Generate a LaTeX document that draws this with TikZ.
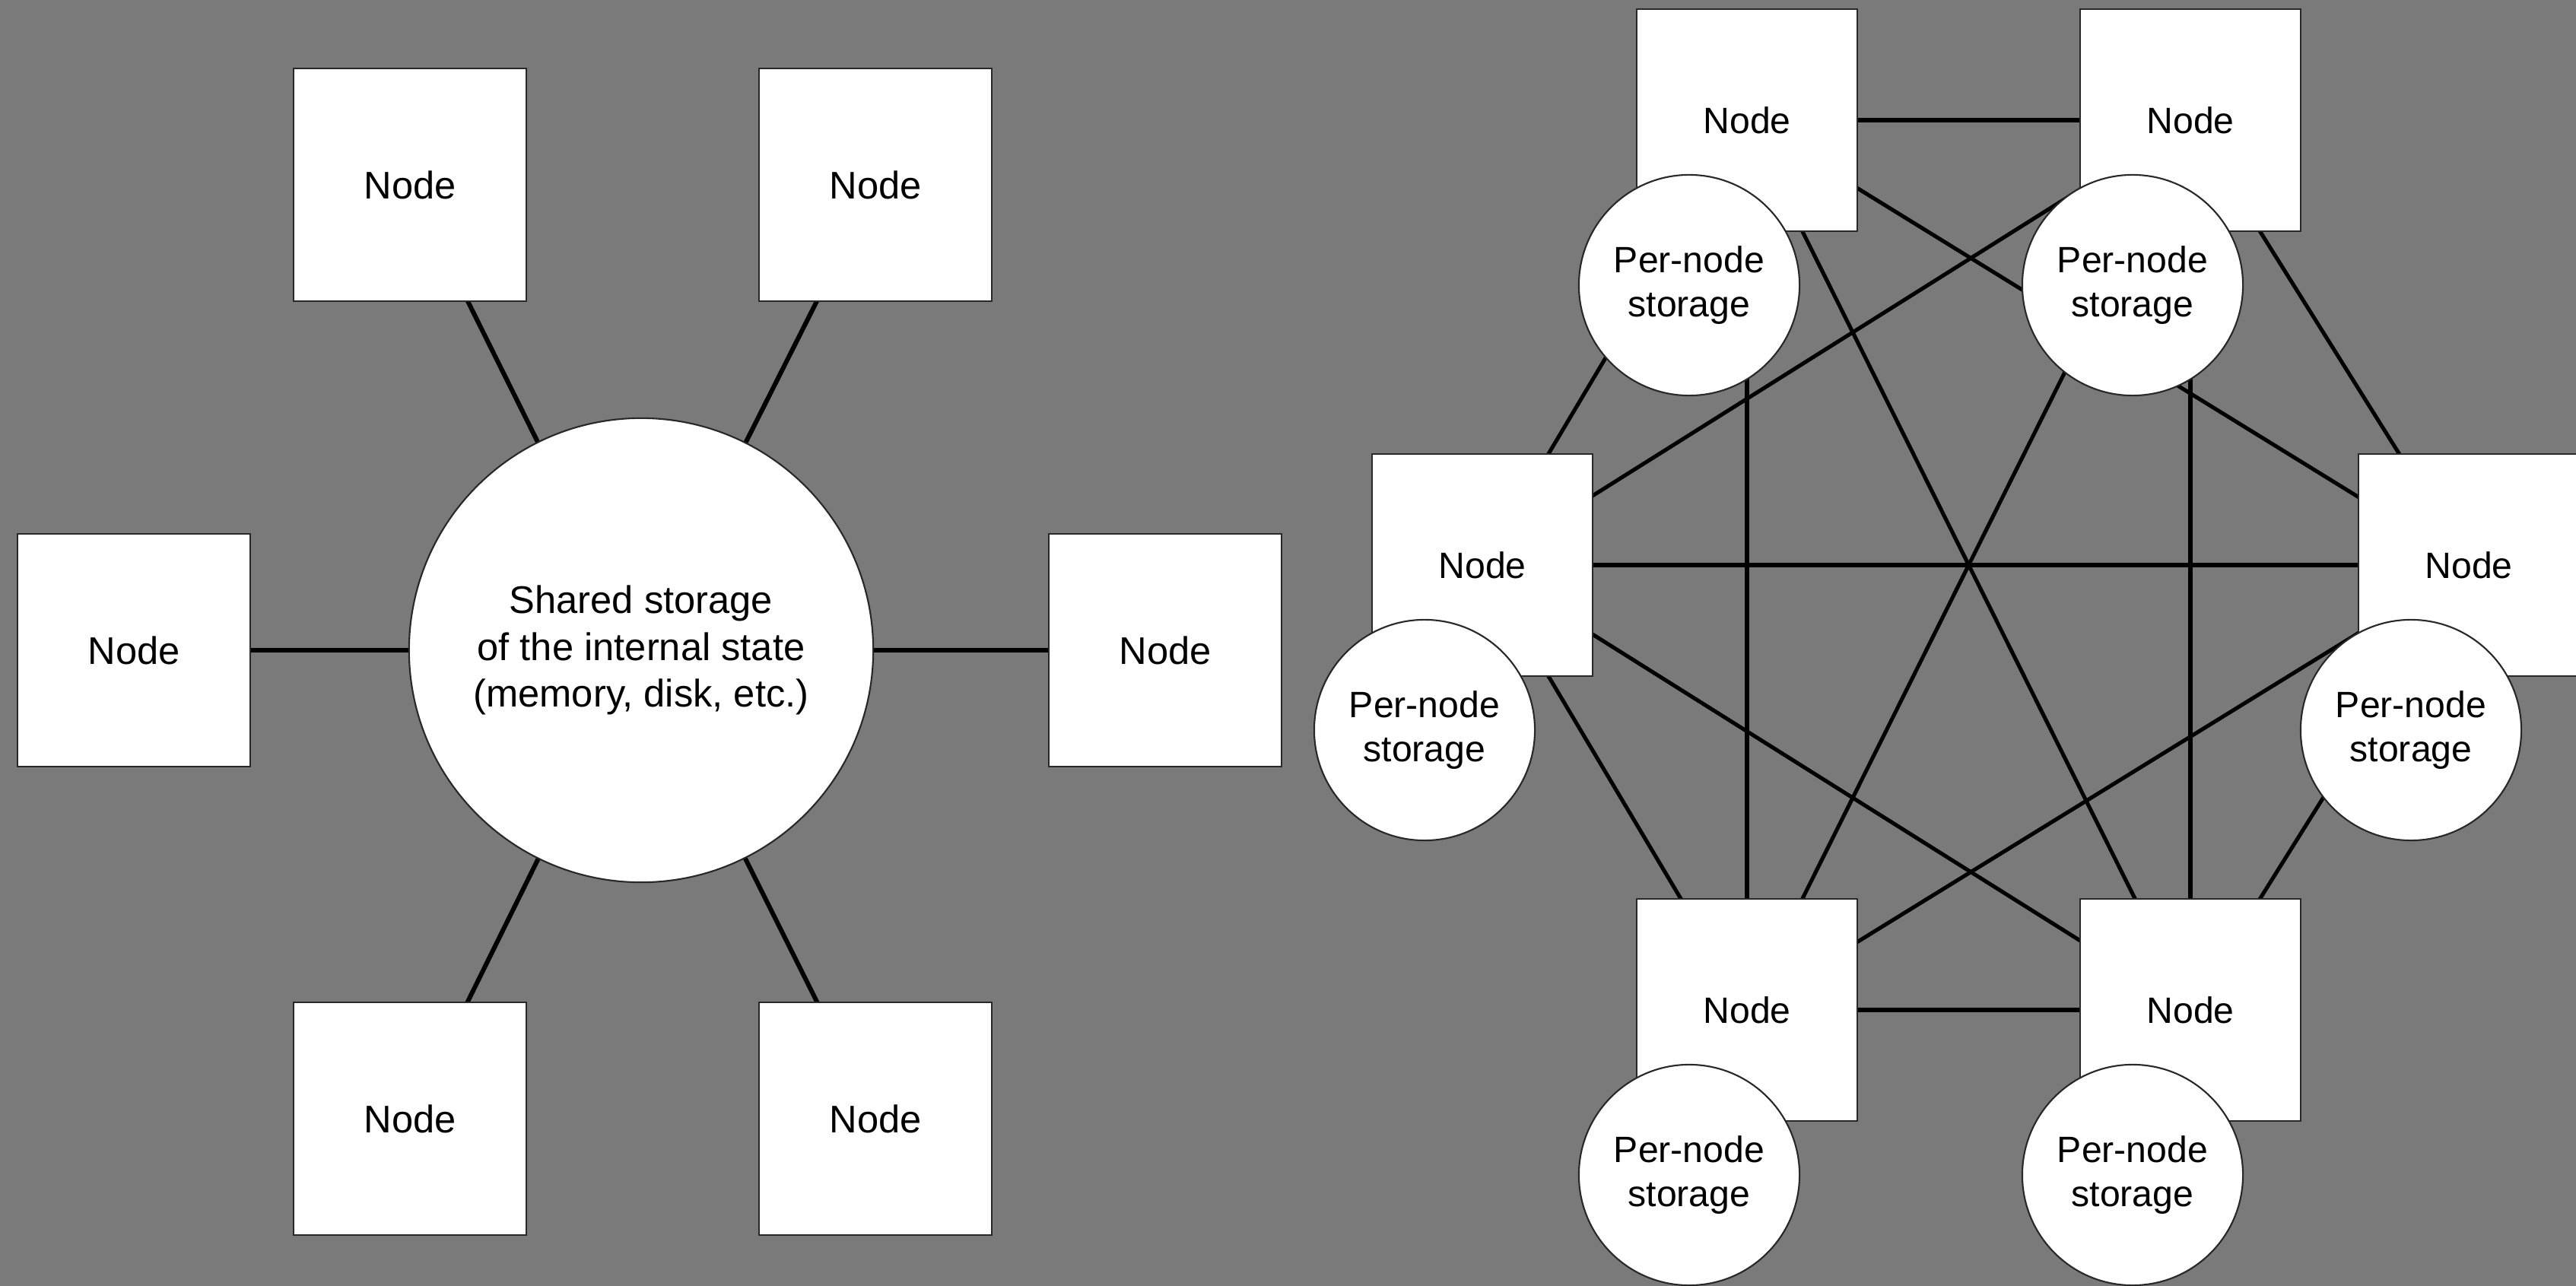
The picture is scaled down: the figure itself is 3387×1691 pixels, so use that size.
\documentclass[tikz,border=0pt]{standalone}
\usepackage{fontspec}
\setmainfont{Liberation Sans}
\usetikzlibrary{backgrounds}
\definecolor{bg}{RGB}{122,122,122}
\definecolor{edge}{RGB}{40,40,40}
\begin{document}
\begin{tikzpicture}[x=0.01cm,y=-0.01cm,
  bigbox/.style={draw=edge,line width=0.6pt,fill=white,minimum width=3.05cm,minimum height=3.06cm,inner sep=0pt,font=\fontsize{14.4}{17.6}\selectfont},
  bigcirc/.style={circle,draw=edge,line width=0.6pt,fill=white,minimum size=6.1cm,inner sep=0pt,align=center,font=\fontsize{14.4}{17.6}\selectfont},
  smallbox/.style={draw=edge,line width=0.6pt,fill=white,minimum width=2.9cm,minimum height=2.92cm,inner sep=0pt,font=\fontsize{13.7}{16.6}\selectfont},
  smallcirc/.style={circle,draw=edge,line width=0.6pt,fill=white,minimum size=2.9cm,inner sep=0pt,align=center,font=\fontsize{13.7}{16.6}\selectfont},
  biglink/.style={line width=1.7pt,black},
  link/.style={line width=1.45pt,black}]
\useasboundingbox (0,0) rectangle (3387,1691);
% left: shared storage
\node[bigcirc] (S) at (843,855) {Shared storage\\of the internal state\\(memory, disk, etc.)};
\node[bigbox] (LTL) at (539,243) {Node};
\node[bigbox] (LTR) at (1151,243) {Node};
\node[bigbox] (LL) at (176,855) {Node};
\node[bigbox] (LR) at (1532,855) {Node};
\node[bigbox] (LBL) at (539,1471) {Node};
\node[bigbox] (LBR) at (1151,1471) {Node};
% right: per-node storage
\node[smallbox] (A) at (2297,158) {Node};
\node[smallbox] (B) at (2880,158) {Node};
\node[smallbox] (C) at (1949,743) {Node};
\node[smallbox] (D) at (3246,743) {Node};
\node[smallbox] (E) at (2297,1328) {Node};
\node[smallbox] (F) at (2880,1328) {Node};
\node[smallcirc] (As) at (2221,375) {Per-node\\storage};
\node[smallcirc] (Bs) at (2804,375) {Per-node\\storage};
\node[smallcirc] (Cs) at (1873,960) {Per-node\\storage};
\node[smallcirc] (Ds) at (3170,960) {Per-node\\storage};
\node[smallcirc] (Es) at (2221,1545) {Per-node\\storage};
\node[smallcirc] (Fs) at (2804,1545) {Per-node\\storage};
\begin{scope}[on background layer]
  \fill[bg] (0,0) rectangle (3387,1691);
  \foreach \n in {LTL,LTR,LL,LR,LBL,LBR}
    \draw[biglink] (\n.center) -- (S.center);
  \foreach \p/\q in {A/B,A/C,A/D,A/E,A/F,B/C,B/D,B/E,B/F,C/D,C/E,C/F,D/E,D/F,E/F}
    \draw[link] (\p.center) -- (\q.center);
\end{scope}
\end{tikzpicture}
\end{document}
